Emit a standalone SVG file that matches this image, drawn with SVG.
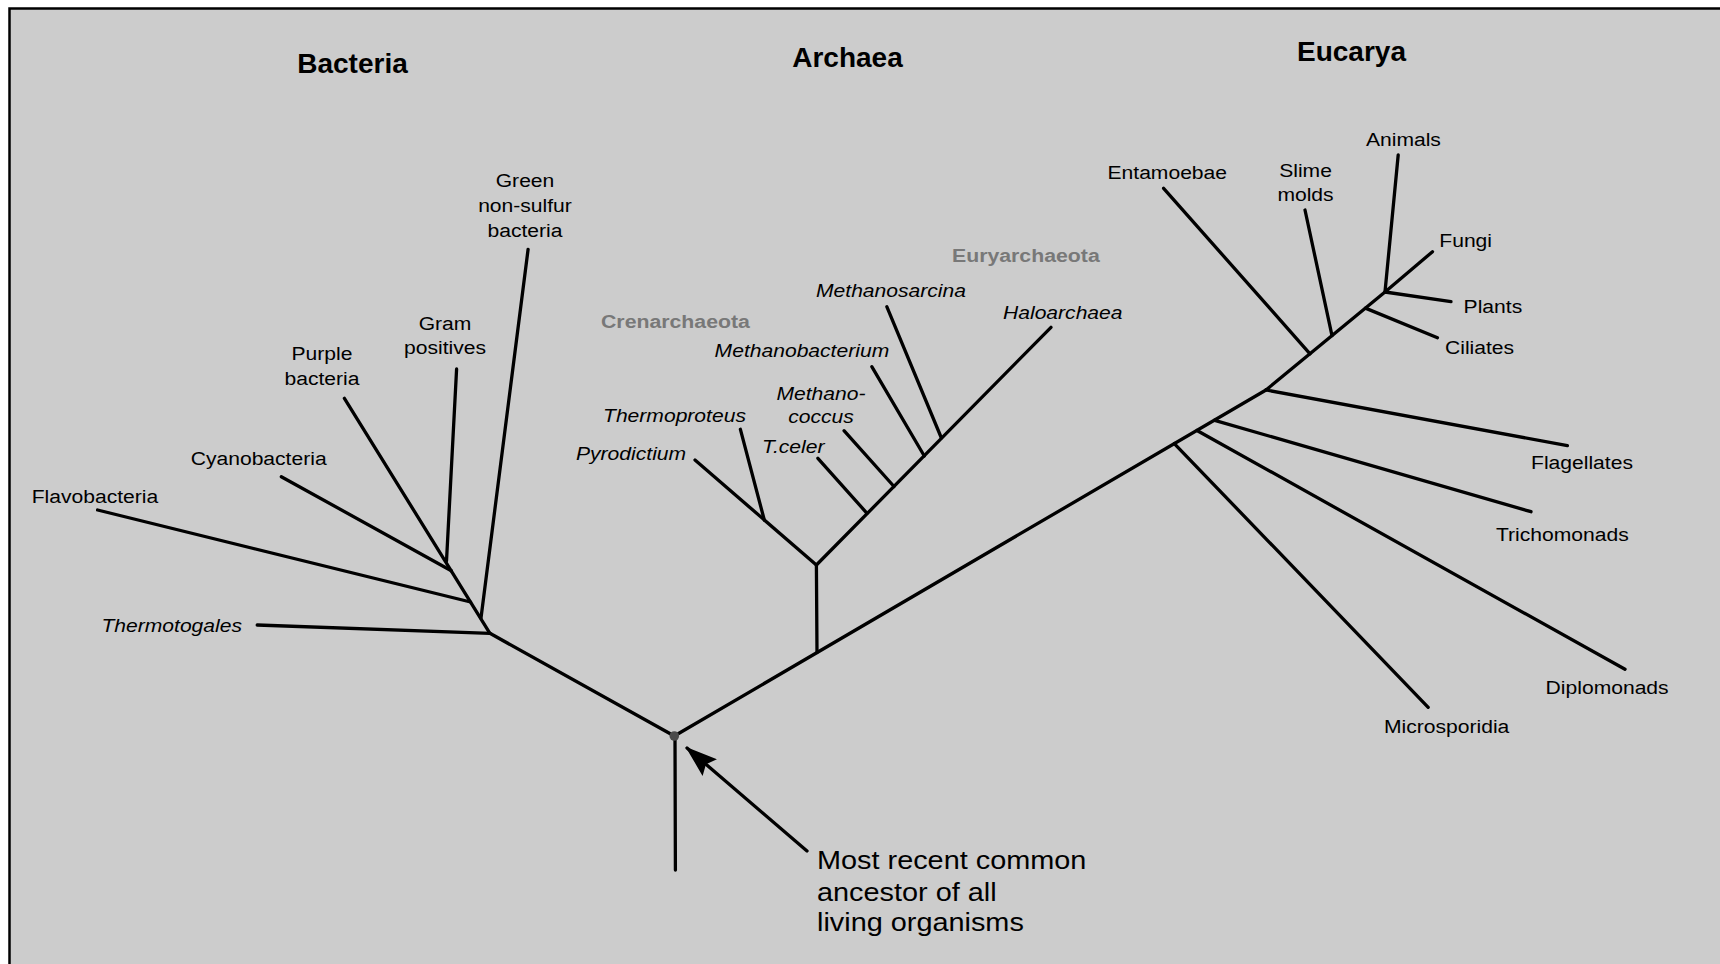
<svg xmlns="http://www.w3.org/2000/svg" width="1720" height="964" viewBox="0 0 1720 964">
  <style>
    .bg { fill: #cccccc; }
    .frame { fill: none; stroke: #000; stroke-width: 2.5; }
    .br { fill: none; stroke: #000; stroke-width: 3.3; stroke-linecap: round; stroke-linejoin: round; }
    .t { font-family: "Liberation Sans", Arial, Helvetica, sans-serif; font-size: 19px; fill: #000; }
    .i { font-style: italic; }
    .m { text-anchor: middle; }
    .h { font-weight: bold; font-size: 28px; text-anchor: middle; }
    .g { font-weight: bold; fill: #787878; }
    .note { font-size: 26px; }
  </style>
  <defs>
    <marker id="arrowhead" markerUnits="userSpaceOnUse" markerWidth="32" markerHeight="22" viewBox="0 0 32 22" refX="30" refY="11" orient="auto">
      <path d="M0,0 L32,11 L0,22 L5,11 Z" fill="#000"/>
    </marker>
  </defs>

  <!-- page background and frame -->
  <rect class="bg" x="9.5" y="8.5" width="1712" height="958"/>
  <path class="frame" d="M9.5,966 V8.5 H1722"/>

  <!-- tree branches -->
  <g id="connectors">
    <!-- Bacteria -->
    <path class="br" d="M344.4,398.3 L489.9,633.3"/>
    <path class="br" d="M456.6,369 L446.5,561"/>
    <path class="br" d="M281.3,476.7 L451.3,570.7"/>
    <path class="br" d="M97.6,510 L470.5,602"/>
    <path class="br" d="M528.1,249.3 L481,618"/>
    <path class="br" d="M257.2,625 L489.9,633.3"/>
    <path class="br" d="M489.9,633.3 L674.3,736"/>
    <!-- trunk and root -->
    <path class="br" d="M674.3,736 L1266,390"/>
    <path class="br" d="M675,738 L675.4,870"/>
    <!-- Archaea -->
    <path class="br" d="M817,652.5 L816.4,565"/>
    <path class="br" d="M695,460 L816.4,565"/>
    <path class="br" d="M740.4,429.3 L764.3,520"/>
    <path class="br" d="M816.4,565 L1051,327.3"/>
    <path class="br" d="M817.9,458.3 L867,513.3"/>
    <path class="br" d="M844,430.7 L894,486.5"/>
    <path class="br" d="M871.8,366.7 L924.3,456"/>
    <path class="br" d="M886.8,306.7 L941.4,438"/>
    <!-- Eucarya -->
    <path class="br" d="M1266,390 L1385,292 L1432.5,251.7"/>
    <path class="br" d="M1163.6,188.3 L1310,353.8"/>
    <path class="br" d="M1305,210 L1332,335.6"/>
    <path class="br" d="M1398.2,155 L1385,292"/>
    <path class="br" d="M1451,301.7 L1385,292"/>
    <path class="br" d="M1437.5,337.7 L1365.4,308.1"/>
    <path class="br" d="M1266,390 L1567.4,445.7"/>
    <path class="br" d="M1214.7,420.3 L1531,511.7"/>
    <path class="br" d="M1197,430.5 L1625,669.3"/>
    <path class="br" d="M1174.3,443.6 L1428.2,707.3"/>
    <!-- pointer to the root -->
    <path class="br" d="M807,851 L687,748" marker-end="url(#arrowhead)" stroke-linecap="butt"/>
  </g>

  <!-- domain headings -->
  <g id="domain-bacteria"><text class="t h" x="352.5" y="73">Bacteria</text></g>
  <g id="domain-archaea"><text class="t h" x="847.5" y="67">Archaea</text></g>
  <g id="domain-eucarya"><text class="t h" x="1351.5" y="61">Eucarya</text></g>

  <!-- Bacteria leaves -->
  <g id="green-non-sulfur"><text class="t m" transform="translate(525 187) scale(1.11 1)"><tspan x="0" y="0">Green</tspan><tspan x="0" y="25">non-sulfur</tspan><tspan x="0" y="50">bacteria</tspan></text></g>
  <g id="gram-positives"><text class="t m" transform="translate(445 330) scale(1.11 1)"><tspan x="0" y="0">Gram</tspan><tspan x="0" y="24">positives</tspan></text></g>
  <g id="purple-bacteria"><text class="t m" transform="translate(322 360) scale(1.11 1)"><tspan x="0" y="0">Purple</tspan><tspan x="0" y="25">bacteria</tspan></text></g>
  <g id="cyanobacteria"><text class="t" transform="translate(190.7 465) scale(1.11 1)">Cyanobacteria</text></g>
  <g id="flavobacteria"><text class="t" transform="translate(31.7 503) scale(1.11 1)">Flavobacteria</text></g>
  <g id="thermotogales"><text class="t i" transform="translate(101.4 632) scale(1.11 1)">Thermotogales</text></g>

  <!-- Archaea groups and leaves -->
  <g id="crenarchaeota"><text class="t g" transform="translate(601 328) scale(1.12 1)">Crenarchaeota</text></g>
  <g id="euryarchaeota"><text class="t g" transform="translate(952 262) scale(1.12 1)">Euryarchaeota</text></g>
  <g id="methanosarcina"><text class="t i" transform="translate(816 297) scale(1.11 1)">Methanosarcina</text></g>
  <g id="haloarchaea"><text class="t i" transform="translate(1003 319) scale(1.11 1)">Haloarchaea</text></g>
  <g id="methanobacterium"><text class="t i" transform="translate(714.6 357) scale(1.11 1)">Methanobacterium</text></g>
  <g id="methanococcus"><text class="t i m" transform="translate(821 400) scale(1.11 1)"><tspan x="0" y="0">Methano-</tspan><tspan x="0" y="23">coccus</tspan></text></g>
  <g id="t-celer"><text class="t i" transform="translate(762 453) scale(1.11 1)">T.celer</text></g>
  <g id="thermoproteus"><text class="t i" transform="translate(603 422) scale(1.11 1)">Thermoproteus</text></g>
  <g id="pyrodictium"><text class="t i" transform="translate(576 460) scale(1.11 1)">Pyrodictium</text></g>

  <!-- Eucarya leaves -->
  <g id="entamoebae"><text class="t" transform="translate(1107.5 179) scale(1.11 1)">Entamoebae</text></g>
  <g id="slime-molds"><text class="t m" transform="translate(1305.5 177) scale(1.11 1)"><tspan x="0" y="0">Slime</tspan><tspan x="0" y="24">molds</tspan></text></g>
  <g id="animals"><text class="t m" transform="translate(1403.4 146) scale(1.11 1)">Animals</text></g>
  <g id="fungi"><text class="t" transform="translate(1439.3 247) scale(1.11 1)">Fungi</text></g>
  <g id="plants"><text class="t" transform="translate(1463.6 313) scale(1.11 1)">Plants</text></g>
  <g id="ciliates"><text class="t" transform="translate(1445 354) scale(1.11 1)">Ciliates</text></g>
  <g id="flagellates"><text class="t" transform="translate(1531 469) scale(1.11 1)">Flagellates</text></g>
  <g id="trichomonads"><text class="t" transform="translate(1496 541) scale(1.11 1)">Trichomonads</text></g>
  <g id="diplomonads"><text class="t" transform="translate(1545.6 694) scale(1.11 1)">Diplomonads</text></g>
  <g id="microsporidia"><text class="t" transform="translate(1384 733) scale(1.11 1)">Microsporidia</text></g>

  <!-- root of the tree -->
  <g id="common-ancestor">
    <circle cx="674.3" cy="736" r="4.8" fill="#4a4a4a"/>
    <text class="t note" transform="translate(817 869) scale(1.11 1)"><tspan x="0" y="0">Most recent common</tspan><tspan x="0" y="32">ancestor of all</tspan><tspan x="0" y="62">living organisms</tspan></text>
  </g>
</svg>
